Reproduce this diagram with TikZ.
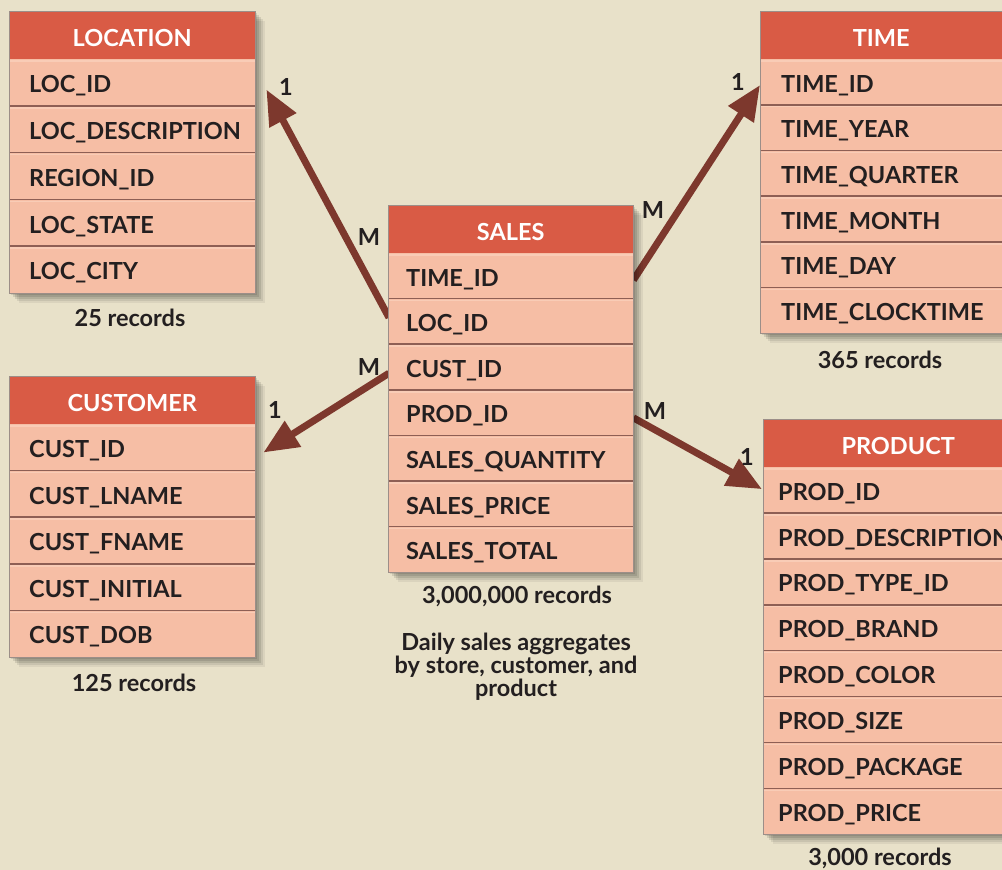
\documentclass[tikz,border=0pt]{standalone}
\usepackage{fontspec}
\setmainfont{Lato}
\usetikzlibrary{arrows.meta,calc}
\definecolor{bg}{HTML}{E8E1C9}
\definecolor{hdrred}{HTML}{D95B45}
\definecolor{rowfill}{HTML}{F6BEA5}
\definecolor{rowhi}{HTML}{F9CCB6}
\definecolor{sepc}{HTML}{8E5F54}
\definecolor{bordc}{HTML}{9C8E88}
\definecolor{arrowc}{HTML}{7D382D}
\definecolor{txt}{HTML}{231F20}
\pgfdeclarelayer{back}
\pgfsetlayers{back,main}
\newcommand{\fnt}{\fontsize{23.5}{23}\selectfont\bfseries}
\tikzset{
  hdr/.style={fill=hdrred, text=white, font=\fnt, inner sep=0pt, minimum height=48pt, text height=22pt, text depth=0pt, anchor=north west},
  rowbox/.style={fill=rowfill, text=txt, font=\fnt, inner ysep=0pt, text height=20pt, text depth=0pt, anchor=north west, align=left},
  sepline/.style={draw=sepc, line width=1.6pt},
  hiline/.style={draw=rowhi, line width=1.5pt},
  bord/.style={draw=bordc, line width=0.8pt},
  rel/.style={draw=arrowc, line width=7pt, -{Triangle[length=35pt,width=29pt]}},
  rectext/.style={text=txt, font=\fnt, inner sep=0pt},
  card/.style={text=txt, font=\fnt, inner sep=0pt}
}
% #1 name, #2 x, #3 y, #4 width, #5 row height, #6 number of rows, #7 indent, #8 title, #9 rows
\newcommand{\dbtab}[9]{%
  \pgfmathsetmacro{\tabh}{48+#6*#5}%
  \pgfmathsetmacro{\tw}{#4-2*#7}%
  \foreach \o/\a in {2/0.10,4/0.10,6/0.10,8/0.08,10/0.06}{%
    \fill[black,opacity=\a] (#2+\o,#3+\o) rectangle (#2+#4+\o,#3+\tabh+\o);}
  \node[hdr, minimum width=#4pt] (#1) at (#2,#3) {#8};
  \foreach \r [count=\i] in {#9}{%
    \node[rowbox, inner xsep=#7pt, text width=\tw pt, minimum height=#5pt] (#1-\i) at (#2,{#3+48+(\i-1)*#5}) {\r};
    \draw[hiline] ($(#1-\i.north west)+(0,2)$) -- ($(#1-\i.north east)+(0,2)$);
    \ifnum\i>1 \draw[sepline] (#1-\i.north west) -- (#1-\i.north east);\fi
  }
  \draw[bord] (#2,#3) rectangle (#2+#4,#3+\tabh);
}
\begin{document}
\begin{tikzpicture}[x=1pt,y=-1pt]
\useasboundingbox (0,0) rectangle (1002,870);
\begin{pgfonlayer}{back}
\fill[bg] (0,0) rectangle (1002,870);
\end{pgfonlayer}

\dbtab{loc}{9}{11}{246}{46.8}{5}{20}{LOCATION}{LOC\_ID,LOC\_DESCRIPTION,REGION\_ID,LOC\_STATE,LOC\_CITY}
\dbtab{cust}{9}{376}{246}{46.6}{5}{20}{CUSTOMER}{CUST\_ID,CUST\_LNAME,CUST\_FNAME,CUST\_INITIAL,CUST\_DOB}
\dbtab{sales}{388}{205}{245}{45.6}{7}{18}{SALES}{TIME\_ID,LOC\_ID,CUST\_ID,PROD\_ID,SALES\_QUANTITY,SALES\_PRICE,SALES\_TOTAL}
\dbtab{time}{760}{11}{242}{45.7}{6}{21}{TIME}{TIME\_ID,TIME\_YEAR,TIME\_QUARTER,TIME\_MONTH,TIME\_DAY,TIME\_CLOCKTIME}
\dbtab{prod}{763}{419}{270}{45.9}{8}{15}{PRODUCT}{PROD\_ID,PROD\_DESCRIPTION,PROD\_TYPE\_ID,PROD\_BRAND,PROD\_COLOR,PROD\_SIZE,PROD\_PACKAGE,PROD\_PRICE}

\node[rectext] (locrec) at (130,318) {25 records};
\node[rectext] (custrec) at (134,683) {125 records};
\node[rectext] (salesrec) at (517,596) {3,000,000 records};
\node[rectext] (timerec) at (880,360) {365 records};
\node[rectext] (prodrec) at (880,858) {3,000 records};
\node[rectext, align=center] (desc) at (516,667) {Daily sales aggregates\\by store, customer, and\\product};

\begin{pgfonlayer}{back}
\draw[rel] ($(sales-2.west)+(1,-4)$) -- ($(loc-1.east)+(11,7)$);
\draw[rel] ($(sales-3.west)+(1,6)$) -- ($(cust-1.east)+(8,5)$);
\draw[rel] ($(sales-1.east)+(0,4)$) -- ($(time-1.west)+(0,3)$);
\draw[rel] ($(sales-4.east)+(0,5)$) -- ($(prod-1.west)+(-1,-1)$);
\end{pgfonlayer}

\node[card] (m1) at (369,237) {M};
\node[card] (o1) at (286,87) {1};
\node[card] (m2) at (369,367) {M};
\node[card] (o2) at (275,410) {1};
\node[card] (m3) at (653,210) {M};
\node[card] (o3) at (738,82) {1};
\node[card] (m4) at (655,411) {M};
\node[card] (o4) at (747,457) {1};
\end{tikzpicture}
\end{document}
